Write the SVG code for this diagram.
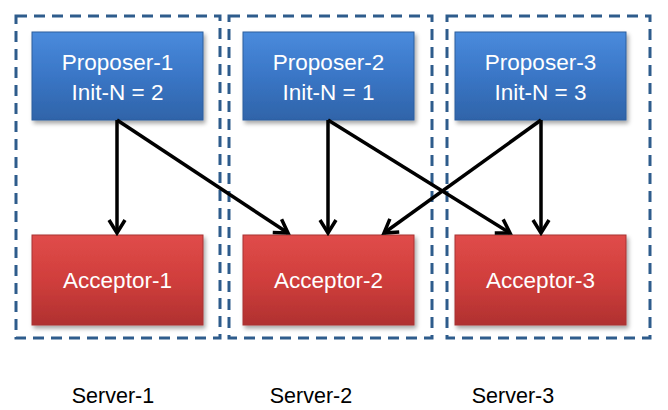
<svg xmlns="http://www.w3.org/2000/svg" width="668" height="410" viewBox="0 0 668 410">
<style>
.server{fill:none;stroke:#2E5C8C;stroke-width:3;stroke-dasharray:11 7}
.prop{fill:url(#gBlue);stroke:#2D5F9E;stroke-width:1}
.acc{fill:url(#gRed);stroke:#A83232;stroke-width:1}
.t{font-family:"Liberation Sans",Arial,sans-serif;font-size:22.5px;fill:#fff;text-anchor:middle}
.lbl{font-family:"Liberation Sans",Arial,sans-serif;font-size:21.5px;fill:#000;text-anchor:middle}
.conn line{stroke:#000;stroke-width:3.5;marker-end:url(#arr)}
</style>
<defs>
<linearGradient id="gBlue" x1="0" y1="0" x2="0" y2="1">
<stop offset="0" stop-color="#4A8BDC"/>
<stop offset="0.5" stop-color="#3A76C6"/>
<stop offset="1" stop-color="#2F64A9"/>
</linearGradient>
<linearGradient id="gRed" x1="0" y1="0" x2="0" y2="1">
<stop offset="0" stop-color="#E04C4A"/>
<stop offset="0.5" stop-color="#D03E3C"/>
<stop offset="1" stop-color="#B03130"/>
</linearGradient>
<filter id="sh" x="-10%" y="-10%" width="130%" height="140%">
<feDropShadow dx="2" dy="3" stdDeviation="2" flood-color="#000" flood-opacity="0.35"/>
</filter>
<marker id="arr" viewBox="0 0 20 20" refX="17" refY="10" markerWidth="20" markerHeight="20" markerUnits="userSpaceOnUse" orient="auto">
<path d="M4,2 L17,10 L4,18" fill="none" stroke="#000" stroke-width="3.5" stroke-linejoin="miter"/>
</marker>
</defs>
<rect width="668" height="410" fill="#fff"/>
<g id="server-1"><rect class="server" x="16" y="16" width="204" height="322"/><text class="lbl" x="113" y="403">Server-1</text></g>
<g id="server-2"><rect class="server" x="229" y="16" width="203" height="322"/><text class="lbl" x="311" y="403">Server-2</text></g>
<g id="server-3"><rect class="server" x="447" y="16" width="203" height="322"/><text class="lbl" x="513" y="403">Server-3</text></g>
<g id="proposer-1"><rect class="prop" x="32" y="32" width="171" height="88" filter="url(#sh)"/><text class="t" x="117.5" y="70">Proposer-1</text><text class="t" x="117.5" y="100">Init-N = 2</text></g>
<g id="proposer-2"><rect class="prop" x="243" y="32" width="171" height="88" filter="url(#sh)"/><text class="t" x="328.5" y="70">Proposer-2</text><text class="t" x="328.5" y="100">Init-N = 1</text></g>
<g id="proposer-3"><rect class="prop" x="455" y="32" width="171" height="88" filter="url(#sh)"/><text class="t" x="540.5" y="70">Proposer-3</text><text class="t" x="540.5" y="100">Init-N = 3</text></g>
<g id="acceptor-1"><rect class="acc" x="32" y="235" width="171" height="90" filter="url(#sh)"/><text class="t" x="117.5" y="288">Acceptor-1</text></g>
<g id="acceptor-2"><rect class="acc" x="243" y="235" width="171" height="90" filter="url(#sh)"/><text class="t" x="328.5" y="288">Acceptor-2</text></g>
<g id="acceptor-3"><rect class="acc" x="455" y="235" width="171" height="90" filter="url(#sh)"/><text class="t" x="540.5" y="288">Acceptor-3</text></g>
<g id="connectors" class="conn">
<line x1="117" y1="120" x2="117" y2="233"/>
<line x1="117" y1="120" x2="288" y2="233"/>
<line x1="328" y1="120" x2="328" y2="233"/>
<line x1="328" y1="120" x2="510" y2="233"/>
<line x1="541" y1="120" x2="541" y2="233"/>
<line x1="541" y1="120" x2="384" y2="233"/>
</g>
</svg>
